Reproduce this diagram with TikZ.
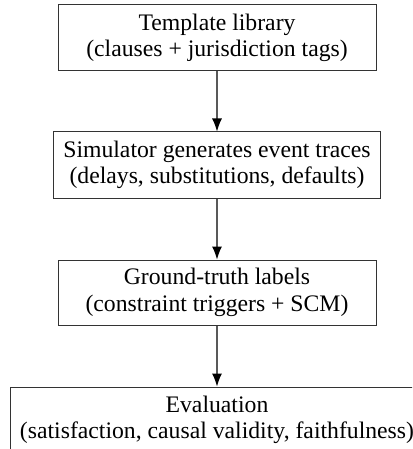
\documentclass[tikz,border=0pt]{standalone}
\usepackage{fontspec}
\setmainfont{Liberation Serif}
\usetikzlibrary{arrows.meta}
\tikzset{
  stagebox/.style={draw=black!80, line width=1pt, fill=white, inner sep=0pt, align=center,
    font=\fontsize{23.7}{26.5}\selectfont},
  flowarrow/.style={draw=black!65, line width=1.1pt, -{Latex[length=13pt,width=10pt,color=black]}}
}
\begin{document}
\begin{tikzpicture}[x=1pt,y=-1pt]
\useasboundingbox (0,0) rectangle (412,449);
\clip (0,0) rectangle (412,449);
\node[stagebox, minimum width=318pt, minimum height=66pt] (b1) at (217,38)
  {Template library\\(clauses + jurisdiction tags)};
\node[stagebox, minimum width=327pt, minimum height=66pt] (b2) at (217,165)
  {Simulator generates event traces\\(delays, substitutions, defaults)};
\node[stagebox, minimum width=318pt, minimum height=65pt] (b3) at (217,292.5)
  {Ground-truth labels\\(constraint triggers + SCM)};
\node[stagebox, minimum width=414pt, minimum height=66pt] (b4) at (217,420)
  {Evaluation\\(satisfaction, causal validity, faithfulness)};
\draw[flowarrow] (b1) -- (b2);
\draw[flowarrow] (b2) -- (b3);
\draw[flowarrow] (b3) -- (b4);
\end{tikzpicture}
\end{document}
